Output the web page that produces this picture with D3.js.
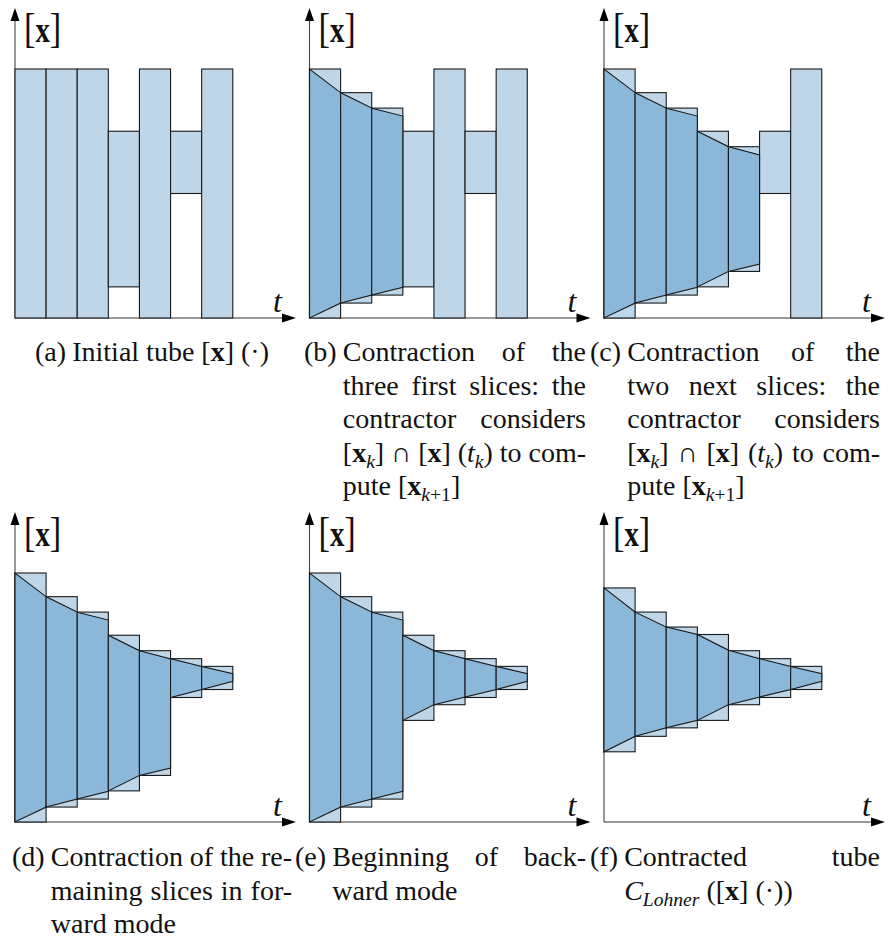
<!DOCTYPE html>
<html><head><meta charset="utf-8">
<script src="https://cdn.jsdelivr.net/npm/d3@7"></script>
<style>body{margin:0;background:#fff} svg{display:block} text{font-family:"Liberation Serif","DejaVu Serif",serif}</style>
</head><body>
<svg id="c" width="888" height="940"></svg>
<script>
// ---------- DATA ----------
// slice boxes [lo, hi] for the 7 time slices of each panel (units: 0..10 = full initial height)
const boxesA = [[0,10],[0,10],[0,10],[1.25,7.5],[0,10],[5.0,7.5],[0,10]];
const boxesB = [[0,10],[0.6,9.05],[0.92,8.43],[1.25,7.5],[0,10],[5.0,7.5],[0,10]];
const boxesC = [[0,10],[0.6,9.05],[0.92,8.43],[1.25,7.5],[1.87,6.88],[5.0,7.5],[0,10]];
const boxesD = [[0,10],[0.6,9.05],[0.92,8.43],[1.25,7.5],[1.87,6.88],[5.0,6.56],[5.32,6.25]];
const boxesE = [[0,10],[0.6,9.05],[0.92,8.43],[4.08,7.5],[4.71,6.88],[5.0,6.56],[5.32,6.25]];
const boxesF = [[2.82,9.4],[3.44,8.43],[3.78,7.83],[4.08,7.53],[4.71,6.88],[5.0,6.56],[5.32,6.25]];
// contracted trapezoids: [slice, loStart, hiStart, loEnd, hiEnd]
const trapsA = [];
const trapsB = [[0,0,10,0.6,9.05],[1,0.6,9.05,0.92,8.43],[2,0.92,8.43,1.23,8.11]];
const trapsC = trapsB.concat([[3,1.25,7.5,1.87,6.88],[4,1.87,6.88,2.17,6.55]]);
const trapsD = trapsC.concat([[5,5.0,6.56,5.32,6.25],[6,5.32,6.25,5.65,5.96]]);
const trapsE = trapsB.concat([[3,4.08,7.5,4.71,6.88],[4,4.71,6.88,5.02,6.56],[5,5.02,6.56,5.32,6.25],[6,5.32,6.25,5.65,5.96]]);
const trapsF = [[0,2.82,9.4,3.44,8.43],[1,3.44,8.43,3.78,7.83],[2,3.78,7.83,4.08,7.53],[3,4.08,7.53,4.71,6.9],[4,4.71,6.9,5.02,6.56],[5,5.02,6.56,5.32,6.25],[6,5.32,6.25,5.65,5.96]];

const panelBoxes = [boxesA, boxesB, boxesC, boxesD, boxesE, boxesF];
const panelTraps = [trapsA, trapsB, trapsC, trapsD, trapsE, trapsF];

// caption text ({b:..} bold, {i:..} italic, {s:..} italic subscript, {u:..} upright subscript, {c:..} calligraphic)
const captionLabels = ["(a)","(b)","(c)","(d)","(e)","(f)"];
const captionLines = [
  [["Initial","tube","[{b:x}]","(·)"]],
  [["Contraction","of","the"],["three","first","slices:","the"],["contractor","considers"],["[{b:x}{s:k}]","∩","[{b:x}]","({i:t}{s:k})","to","com-"],["pute","[{b:x}{s:k}{u:+1}]"]],
  [["Contraction","of","the"],["two","next","slices:","the"],["contractor","considers"],["[{b:x}{s:k}]","∩","[{b:x}]","({i:t}{s:k})","to","com-"],["pute","[{b:x}{s:k}{u:+1}]"]],
  [["Contraction","of","the","re-"],["maining","slices","in","for-"],["ward","mode"]],
  [["Beginning","of","back-"],["ward","mode"]],
  [["Contracted","tube"],["{c:C}{s:Lohner}","([{b:x}]","(·))"]]
];

// ---------- LAYOUT ----------
const COL_X = [15, 309.5, 604];
const ROW_Y = [318, 822];
const FONT = "Liberation Serif, DejaVu Serif, serif";
const FS = 28;
const LINE = 33.5;
const capBase = [361, 866];
// label x, right edge of justified text (null = not justified)
const capLayout = [[35,null],[304,586],[590,880],[12,292],[295,586],[590,880]];

const svg = d3.select("#c");
const LIGHT = "#bed6e8", DARK = "#8bb8d9", EDGE = "#1a1a1a";

panelBoxes.forEach((boxes, i) => {
  const ox = COL_X[i % 3], oy = ROW_Y[Math.floor(i / 3)];
  const x = d3.scaleLinear().domain([0, 9]).range([ox, ox + 280]);
  const y = d3.scaleLinear().domain([0, 10]).range([oy, oy - 249]);
  const g = svg.append("g");
  g.append("line").attr("x1", ox).attr("y1", oy).attr("x2", ox).attr("y2", oy - 300)
    .attr("stroke", "#444").attr("stroke-width", 1.1);
  g.append("line").attr("x1", ox).attr("y1", oy).attr("x2", ox + 270).attr("y2", oy)
    .attr("stroke", "#333").attr("stroke-width", 1.1);
  g.selectAll("rect.box").data(boxes).join("rect").attr("class", "box")
    .attr("x", (d, k) => x(k)).attr("width", (d, k) => x(k + 1) - x(k))
    .attr("y", d => y(d[1])).attr("height", d => y(d[0]) - y(d[1]))
    .attr("fill", LIGHT).attr("stroke", EDGE).attr("stroke-width", 1.1);
  g.selectAll("path.trap").data(panelTraps[i]).join("path").attr("class", "trap")
    .attr("d", d => `M${x(d[0])},${y(d[1])}L${x(d[0])},${y(d[2])}L${x(d[0] + 1)},${y(d[4])}L${x(d[0] + 1)},${y(d[3])}Z`)
    .attr("fill", DARK).attr("stroke", EDGE).attr("stroke-width", 1.1);
  g.append("path").attr("d", `M${ox},${oy - 310}L${ox - 4.5},${oy - 297}L${ox + 4.5},${oy - 297}Z`).attr("fill", "#000");
  g.append("path").attr("d", `M${ox + 281},${oy}L${ox + 267},${oy - 4.5}L${ox + 267},${oy + 4.5}Z`).attr("fill", "#000");
  const lab = g.append("text").attr("transform", `translate(${ox + 9},${oy - 276}) scale(0.8,1)`)
    .style("font-family", FONT).attr("fill", "#111");
  lab.append("tspan").attr("font-size", 43).text("[");
  lab.append("tspan").attr("font-size", 36).attr("font-weight", "bold").attr("dx", 0).text("x");
  lab.append("tspan").attr("font-size", 43).attr("dx", 0).text("]");
  g.append("text").attr("x", ox + 258).attr("y", oy - 6.5).style("font-family", FONT)
    .attr("font-style", "italic").attr("font-size", 32).attr("fill", "#111").text("t");
});

function addRich(parent, str, x, y, fs) {
  const t = parent.append("text").attr("x", x).attr("y", y)
    .style("font-family", FONT).attr("font-size", fs).attr("fill", "#111");
  const re = /\{(\w):([^}]*)\}|([^{]+)/g;
  let m, shifted = false;
  while ((m = re.exec(str))) {
    let kind = m[3] !== undefined ? "n" : m[1];
    let txt = m[3] !== undefined ? m[3] : m[2];
    const sp = t.append("tspan").text(txt);
    if (kind === "s" || kind === "u") {
      sp.attr("font-size", fs * 0.7);
      if (kind === "s") sp.attr("font-style", "italic");
      if (!shifted) { sp.attr("dy", fs * 0.22); shifted = true; }
    } else {
      if (shifted) { sp.attr("dy", -fs * 0.22); shifted = false; }
      if (kind === "b") sp.attr("font-weight", "bold");
      if (kind === "i") sp.attr("font-style", "italic");
      if (kind === "c") sp.attr("font-style", "italic");
    }
  }
  return t;
}

captionLines.forEach((lines, i) => {
  const base = capBase[Math.floor(i / 3)];
  const [lx, cx1] = capLayout[i];
  const lab = addRich(svg, captionLabels[i], lx, base, FS);
  const lw = lab.node().getComputedTextLength();
  const x0 = lx + lw + FS * 0.22;
  lines.forEach((words, li) => {
    const yy = base + li * LINE;
    const toks = words.map(w => addRich(svg, w, 0, yy, FS));
    const widths = toks.map(t => t.node().getComputedTextLength());
    const sum = d3.sum(widths);
    let gap = FS * 0.25;
    const justify = cx1 !== null && li < lines.length - 1 && toks.length > 1;
    if (justify) gap = (cx1 - x0 - sum) / (toks.length - 1);
    let xx = x0;
    toks.forEach((t, j) => { t.attr("x", xx); xx += widths[j] + gap; });
  });
});
</script>
</body></html>
